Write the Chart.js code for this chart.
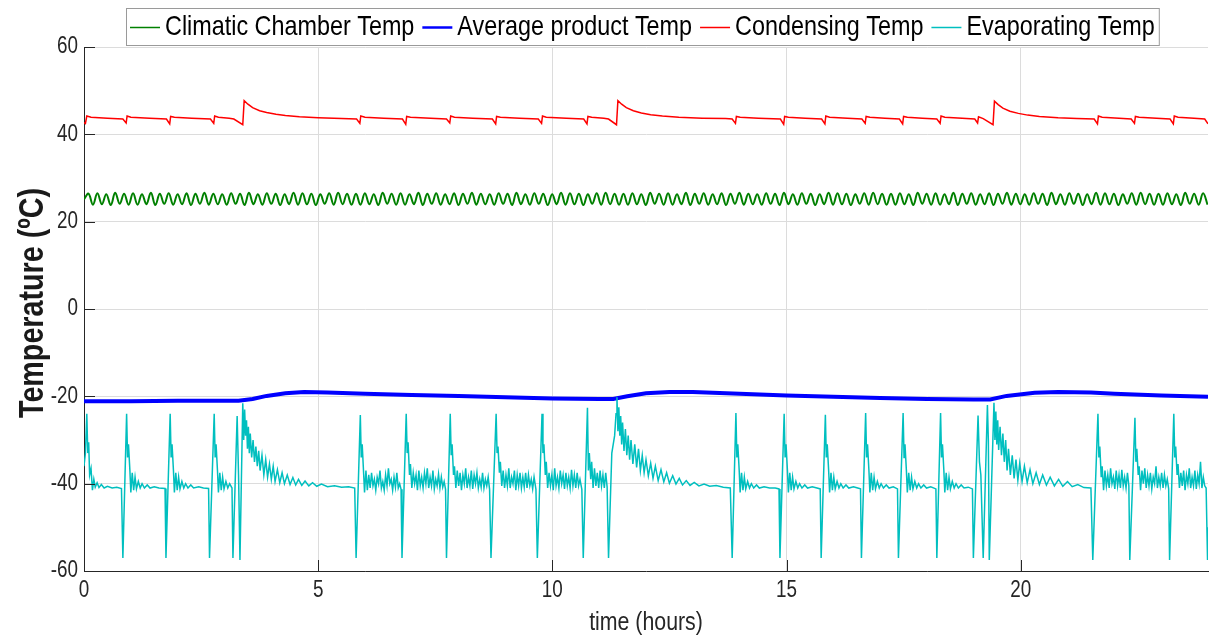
<!DOCTYPE html>
<html>
<head>
<meta charset="utf-8">
<script src="https://cdn.jsdelivr.net/npm/chart.js@4.4.1/dist/chart.umd.min.js"></script>
<style>
  html, body { margin: 0; padding: 0; background: #fff; }
  #wrap { width: 1213px; height: 639px; position: relative; }
</style>
</head>
<body>
<div id="wrap"><canvas id="temps"></canvas></div>
<script>
// Arial squeezed horizontally stands in for the Helvetica Narrow of the original
const fontFamily = '"Liberation Sans", Arial, sans-serif';
const narrow = 0.82;

const seriesNames = ['Climatic Chamber Temp', 'Average product Temp', 'Condensing Temp', 'Evaporating Temp'];
const seriesColors = ['#008000', '#0000ff', '#ff0000', '#00bfbf'];
const yTickValues = [-60, -40, -20, 0, 20, 40, 60];
const xTickValues = [0, 5, 10, 15, 20];

// climatic chamber: one reading every chamberStep hours
const chamberStep = 0.0952;
const chamberTemp = [25.1,
  26.4,23.9,26.5,24.0,26.3,23.8,26.6,24.1,26.4,23.9,26.5,23.9,26.3,24.0,26.6,23.8,26.4,24.1,26.5,23.9,
  26.3,24.0,26.5,23.8,26.4,24.1,26.6,23.9,26.4,24.0,26.3,23.9,26.5,24.1,26.4,23.8,26.6,24.0,26.3,23.9,
  26.5,24.1,26.4,23.8,26.3,24.0,26.6,23.9,26.5,24.0,26.4,23.8,26.3,24.1,26.5,23.9,26.6,24.0,26.4,23.9,
  26.4,23.9,26.5,24.0,26.3,23.8,26.6,24.1,26.4,23.9,26.5,23.9,26.3,24.0,26.6,23.8,26.4,24.1,26.5,23.9,
  26.3,24.0,26.5,23.8,26.4,24.1,26.6,23.9,26.4,24.0,26.3,23.9,26.5,24.1,26.4,23.8,26.6,24.0,26.3,23.9,
  26.5,24.1,26.4,23.8,26.3,24.0,26.6,23.9,26.5,24.0,26.4,23.8,26.3,24.1,26.5,23.9,26.6,24.0,26.4,23.9,
  26.4,23.9,26.5,24.0,26.3,23.8,26.6,24.1,26.4,23.9,26.5,23.9,26.3,24.0,26.6,23.8,26.4,24.1,26.5,23.9,
  26.3,24.0,26.5,23.8,26.4,24.1,26.6,23.9,26.4,24.0,26.3,23.9,26.5,24.1,26.4,23.8,26.6,24.0,26.3,23.9,
  26.5,24.1,26.4,23.8,26.3,24.0,26.6,23.9,26.5,24.0,26.4,23.8,26.3,24.1,26.5,23.9,26.6,24.0,26.4,23.9,
  26.4,23.9,26.5,24.0,26.3,23.8,26.6,24.1,26.4,23.9,26.5,23.9,26.3,24.0,26.6,23.8,26.4,24.1,26.5,23.9,
  26.3,24.0,26.5,23.8,26.4,24.1,26.6,23.9,26.4,24.0,26.3,23.9,26.5,24.1,26.4,23.8,26.6,24.0,26.3,23.9,
  26.5,24.1,26.4,23.8,26.3,24.0,26.6,23.9,26.5,24.0,26.4,23.8,26.3,24.1,26.5,23.9,26.6,24.0,26.4,23.9,
  26.4,23.9,26.5,24.0,26.3,23.8,26.6,24.1,26.4,23.9,26.5,23.9
];

// [hours, degC]
const productTemp = [
  [0,-21.1],[1,-21.1],[2,-21.0],[3,-21.0],[3.3,-21.0],[3.6,-20.6],[3.9,-19.9],[4.3,-19.3],[4.7,-19.0],
  [5.2,-19.1],[6,-19.4],[7,-19.7],[8,-19.9],[9,-20.2],[10,-20.5],[11,-20.6],[11.3,-20.6],[11.6,-20.0],
  [12.0,-19.3],[12.5,-19.0],[13,-19.0],[14,-19.4],[15,-19.8],[16,-20.1],[17,-20.4],[18,-20.6],[19,-20.7],
  [19.35,-20.7],[19.7,-19.9],[20.3,-19.2],[20.8,-19.0],[21.5,-19.1],[22,-19.4],[23,-19.8],[24,-20.1]
];

const condensingTemp = [
  [0,42.7],[0.03,42.5],[0.06,44.2],[0.15,43.9],[0.5,43.7],
  [0.83,43.5],[0.9,42.6],[0.92,44.2],[1.0,43.9],[1.4,43.7],
  [1.76,43.5],[1.83,42.4],[1.85,44.1],[1.93,43.9],[2.3,43.7],
  [2.7,43.5],[2.77,42.5],[2.79,44.2],[2.87,43.9],[3.1,43.7],
  [3.2,43.5],[3.39,42.2],[3.42,47.7],[3.5,46.9],[3.6,46.1],[3.75,45.4],[3.9,45.0],[4.1,44.6],[4.3,44.3],[4.6,44.0],[5.0,43.8],[5.5,43.6],
  [5.82,43.5],[5.89,42.5],[5.91,44.2],[6.0,43.9],[6.4,43.7],
  [6.8,43.5],[6.87,42.3],[6.89,44.1],[6.97,43.9],[7.4,43.7],
  [7.74,43.5],[7.81,42.6],[7.83,44.2],[7.91,43.9],[8.3,43.7],
  [8.72,43.5],[8.79,42.4],[8.81,44.1],[8.89,43.9],[9.3,43.7],
  [9.7,43.5],[9.77,42.5],[9.79,44.2],[9.87,43.9],[10.3,43.7],
  [10.67,43.5],[10.74,42.4],[10.76,44.1],[10.84,43.9],[11.1,43.7],
  [11.2,43.5],[11.37,42.2],[11.4,47.7],[11.48,46.9],[11.58,46.1],[11.73,45.4],[11.9,44.9],[12.1,44.5],[12.35,44.2],[12.7,43.9],[13.2,43.7],[13.7,43.6],
  [13.84,43.5],[13.91,42.5],[13.93,44.1],[14.01,43.9],[14.4,43.7],
  [14.87,43.5],[14.94,42.3],[14.96,44.1],[15.04,43.9],[15.4,43.7],
  [15.75,43.5],[15.82,42.4],[15.84,44.2],[15.92,43.9],[16.3,43.7],
  [16.61,43.5],[16.68,42.5],[16.7,44.1],[16.78,43.9],[17.1,43.7],
  [17.41,43.5],[17.48,42.4],[17.5,44.1],[17.58,43.9],[17.9,43.7],
  [18.21,43.5],[18.28,42.5],[18.3,44.2],[18.38,43.9],[18.75,43.7],
  [19.02,43.5],[19.08,42.6],[19.1,44.0],[19.2,43.6],[19.41,42.2],[19.44,47.6],[19.52,46.8],[19.62,46.0],[19.77,45.3],[19.95,44.8],[20.15,44.4],[20.4,44.1],[20.8,43.8],[21.2,43.6],
  [21.57,43.5],[21.64,42.4],[21.66,44.2],[21.74,43.9],[22.1,43.7],
  [22.36,43.5],[22.43,42.5],[22.45,44.1],[22.53,43.9],[22.9,43.7],
  [23.19,43.5],[23.26,42.4],[23.28,44.2],[23.36,43.9],[23.7,43.7],
  [23.93,43.5],[24,42.4]
];

const evaporatingTemp = [
  [0,-36],[0.03,-33],[0.06,-24],[0.08,-33],[0.1,-30.5],[0.12,-38],[0.15,-36.5],[0.18,-41.5],[0.21,-39],[0.24,-40.8],[0.28,-39.8],[0.32,-40.9],[0.37,-40.2],[0.43,-41],[0.5,-40.6],[0.6,-41],[0.7,-40.8],[0.8,-41.1],
  [0.83,-57],[0.91,-24],[0.93,-34],[0.95,-31],[0.98,-37],[1.0,-42],[1.03,-37.5],[1.06,-41.5],[1.09,-38.5],[1.12,-41.2],[1.16,-39.5],[1.2,-41],[1.24,-40],[1.29,-41],[1.35,-40.3],[1.41,-41],[1.5,-40.7],[1.6,-41],[1.73,-41.1],
  [1.75,-57],[1.84,-24],[1.86,-34],[1.88,-31],[1.91,-37],[1.93,-42],[1.96,-37.5],[1.99,-41.5],[2.02,-38.5],[2.05,-41.2],[2.09,-39.5],[2.13,-41],[2.17,-40],[2.22,-41],[2.28,-40.3],[2.34,-41],[2.45,-40.7],[2.55,-41],[2.66,-41.1],
  [2.68,-57],[2.78,-24],[2.8,-34],[2.82,-31],[2.85,-37],[2.87,-42],[2.9,-37.5],[2.93,-41.5],[2.96,-38.5],[2.99,-41.2],[3.03,-39.5],[3.07,-41],[3.11,-40],[3.16,-41],
  [3.18,-57],[3.27,-24.5],[3.3,-38],[3.33,-57.5],[3.39,-21.6],[3.41,-30],[3.43,-23],[3.45,-29],[3.47,-25.5],[3.49,-32],[3.51,-27],[3.53,-33],[3.55,-28.5],[3.58,-34],[3.61,-30],[3.64,-35],[3.67,-31.5],[3.7,-36],[3.73,-32.5],[3.76,-37],[3.8,-33.5],[3.84,-38],[3.88,-34.5],[3.92,-38.5],[3.96,-35.5],[4.0,-39],[4.04,-36],[4.08,-39.5],[4.13,-36.8],[4.18,-39.8],[4.23,-37.5],[4.28,-40],[4.34,-38],[4.4,-40.2],[4.46,-38.6],[4.52,-40.3],[4.58,-39],[4.65,-40.4],[4.72,-39.4],[4.8,-40.5],[4.88,-39.8],[4.97,-40.6],[5.07,-40.1],[5.2,-40.7],[5.35,-40.5],[5.5,-40.8],[5.65,-40.7],[5.78,-41],
  [5.81,-57],[5.9,-24.3],[5.92,-34],[5.94,-31],[5.97,-37.5],[5.99,-42],[6.02,-37],[6.05,-41.5],[6.08,-38],[6.11,-41],[6.14,-37.5],[6.17,-40.5],[6.2,-39],[6.23,-41.5],[6.26,-38.5],[6.29,-40],[6.32,-37],[6.35,-41],[6.38,-39.5],[6.41,-41.5],[6.44,-38],[6.47,-40.5],[6.5,-36.5],[6.53,-40],[6.56,-39],[6.59,-41.5],[6.62,-38.5],[6.65,-40.8],[6.68,-37.5],[6.71,-41],[6.74,-40],[6.77,-41.3],
  [6.79,-57],[6.88,-24],[6.9,-33],[6.92,-30.5],[6.95,-38],[6.97,-35.5],[7.0,-41],[7.03,-37.5],[7.06,-40],[7.09,-38],[7.12,-41.5],[7.15,-37],[7.18,-40.5],[7.21,-38.5],[7.24,-41],[7.27,-37.5],[7.3,-40],[7.33,-36.5],[7.36,-41],[7.39,-38.5],[7.42,-40.5],[7.45,-37],[7.48,-41.2],[7.51,-39],[7.54,-40.5],[7.57,-37.8],[7.6,-41],[7.63,-38.5],[7.66,-40.8],[7.69,-39.5],[7.72,-41.3],
  [7.74,-57],[7.82,-24],[7.84,-33.5],[7.86,-31],[7.89,-38],[7.91,-36],[7.94,-41],[7.97,-37],[8.0,-40.5],[8.03,-37.5],[8.06,-41.5],[8.09,-38],[8.12,-40],[8.15,-36.5],[8.18,-41],[8.21,-38.5],[8.24,-40.5],[8.27,-37],[8.3,-41.2],[8.33,-38],[8.36,-40],[8.39,-37.5],[8.42,-41],[8.45,-39],[8.48,-40.8],[8.51,-37.5],[8.54,-41],[8.57,-39],[8.6,-40.5],[8.63,-38.5],[8.66,-41.3],
  [8.69,-57],[8.8,-24],[8.82,-33],[8.84,-31.5],[8.87,-37.5],[8.89,-35],[8.92,-40.5],[8.95,-37],[8.98,-41],[9.01,-38],[9.04,-40.5],[9.07,-36.5],[9.1,-41],[9.13,-38.5],[9.16,-40],[9.19,-37],[9.22,-41.5],[9.25,-38],[9.28,-40.5],[9.31,-37.5],[9.34,-41],[9.37,-38.5],[9.4,-40.8],[9.43,-37.5],[9.46,-41],[9.49,-38],[9.52,-40.5],[9.55,-39],[9.58,-41.2],[9.61,-38.5],[9.65,-41.3],
  [9.68,-57],[9.78,-24],[9.8,-33],[9.82,-31],[9.85,-38],[9.87,-35],[9.9,-41],[9.93,-37.5],[9.96,-40.5],[9.99,-38],[10.02,-41.5],[10.05,-36.5],[10.08,-40.5],[10.11,-38.5],[10.14,-41],[10.17,-37],[10.2,-40],[10.23,-38],[10.26,-41.2],[10.29,-37.5],[10.32,-40.5],[10.35,-38.5],[10.38,-41],[10.41,-36.8],[10.44,-40.5],[10.47,-38],[10.5,-41],[10.53,-37.5],[10.56,-40.5],[10.59,-39],[10.63,-41.3],
  [10.66,-57],[10.75,-22.6],[10.77,-37],[10.79,-33],[10.82,-39],[10.84,-35],[10.87,-41],[10.9,-36.5],[10.93,-40.5],[10.96,-37.5],[10.99,-41],[11.02,-37],[11.05,-40.5],[11.08,-38],[11.11,-41],[11.14,-37.5],[11.17,-40.8],
  [11.2,-57],[11.27,-33],[11.3,-31],[11.33,-29],[11.36,-24],[11.38,-20.2],[11.4,-28],[11.42,-22.5],[11.44,-29],[11.46,-24.5],[11.48,-31],[11.5,-26],[11.53,-32.5],[11.56,-27.5],[11.59,-33.5],[11.62,-29],[11.65,-34.5],[11.68,-30],[11.72,-35.5],[11.76,-31],[11.8,-36.3],[11.84,-32],[11.88,-37],[11.92,-33.5],[11.96,-37.5],[12.0,-34.5],[12.05,-38.2],[12.1,-35.3],[12.15,-38.8],[12.2,-36],[12.26,-39.3],[12.32,-36.8],[12.38,-39.6],[12.44,-37.5],[12.5,-39.9],[12.57,-38.2],[12.64,-40.1],[12.71,-38.8],[12.78,-40.3],[12.86,-39.3],[12.94,-40.4],[13.03,-39.7],[13.13,-40.5],[13.24,-40.1],[13.36,-40.6],[13.5,-40.4],[13.65,-40.8],[13.8,-41],
  [13.84,-57],[13.92,-23.8],[13.94,-34],[13.96,-31],[13.99,-37],[14.01,-42],[14.04,-37.5],[14.07,-41.5],[14.1,-38.5],[14.13,-41.2],[14.17,-39.5],[14.21,-41],[14.25,-40],[14.3,-41],[14.36,-40.3],[14.42,-41],[14.52,-40.7],[14.64,-41],[14.76,-41],[14.84,-41.2],
  [14.86,-57],[14.95,-24],[14.97,-34],[14.99,-31],[15.02,-37],[15.04,-42],[15.07,-37.5],[15.1,-41.5],[15.13,-38.5],[15.16,-41.2],[15.2,-39.5],[15.24,-41],[15.28,-40],[15.33,-41],[15.39,-40.3],[15.45,-41],[15.55,-40.7],[15.65,-41],[15.72,-41.2],
  [15.74,-57],[15.83,-24.2],[15.85,-34],[15.87,-31],[15.9,-37],[15.92,-42],[15.95,-37.5],[15.98,-41.5],[16.01,-38.5],[16.04,-41.2],[16.08,-39.5],[16.12,-41],[16.16,-40],[16.21,-41],[16.27,-40.3],[16.33,-41],[16.43,-40.7],[16.52,-41],[16.58,-41.2],
  [16.6,-57],[16.69,-23.8],[16.71,-34],[16.73,-31],[16.76,-37],[16.78,-42],[16.81,-37.5],[16.84,-41.5],[16.87,-38.5],[16.9,-41.2],[16.94,-39.5],[16.98,-41],[17.02,-40],[17.07,-41],[17.13,-40.3],[17.19,-41],[17.28,-40.7],[17.37,-41.2],
  [17.39,-57],[17.49,-23.8],[17.51,-34],[17.53,-31],[17.56,-37],[17.58,-42],[17.61,-37.5],[17.64,-41.5],[17.67,-38.5],[17.7,-41.2],[17.74,-39.5],[17.78,-41],[17.82,-40],[17.87,-41],[17.93,-40.3],[17.99,-41],[18.08,-40.7],[18.19,-41.2],
  [18.21,-57],[18.29,-23.8],[18.31,-34],[18.33,-31],[18.36,-37],[18.38,-42],[18.41,-37.5],[18.44,-41.5],[18.47,-38.5],[18.5,-41.2],[18.54,-39.5],[18.58,-41],[18.62,-40],[18.67,-41],[18.73,-40.3],[18.79,-41],[18.88,-40.8],[18.97,-41.2],
  [18.99,-57],[19.09,-24.4],[19.12,-35],[19.15,-38],[19.2,-57],[19.29,-22],[19.31,-30],[19.33,-57.5],[19.43,-21.5],[19.45,-30],[19.47,-23.5],[19.49,-31],[19.51,-25.5],[19.53,-32.3],[19.56,-27],[19.59,-33.5],[19.62,-28.5],[19.65,-35],[19.68,-30],[19.71,-37],[19.74,-32],[19.78,-38],[19.82,-33.5],[19.86,-38.8],[19.9,-34.5],[19.94,-39.2],[19.98,-35.3],[20.03,-39.5],[20.08,-36],[20.14,-39.8],[20.2,-36.8],[20.26,-40],[20.33,-37.5],[20.4,-40.2],[20.47,-38],[20.55,-40.3],[20.63,-38.5],[20.72,-40.5],[20.81,-39],[20.9,-40.6],[21.0,-39.5],[21.1,-40.7],[21.22,-40.2],[21.35,-40.9],[21.5,-41],
  [21.54,-57.5],[21.65,-24],[21.67,-34],[21.69,-31.5],[21.72,-38.5],[21.74,-36],[21.77,-41.5],[21.8,-37],[21.83,-40.5],[21.86,-38],[21.89,-41],[21.92,-36.5],[21.95,-40],[21.98,-38.5],[22.01,-41.2],[22.04,-37],[22.07,-40.5],[22.1,-38],[22.13,-41],[22.16,-36.8],[22.19,-40.5],[22.22,-38.5],[22.25,-41],[22.28,-37.5],[22.31,-40.5],
  [22.33,-57.5],[22.44,-24.9],[22.46,-35],[22.48,-32],[22.51,-38],[22.53,-36],[22.56,-41.5],[22.59,-37],[22.62,-40],[22.65,-36.5],[22.68,-41],[22.71,-38],[22.74,-40.5],[22.77,-37.5],[22.8,-41.2],[22.83,-38.5],[22.86,-40],[22.89,-36],[22.92,-41],[22.95,-38.5],[22.98,-40.5],[23.01,-37.5],[23.04,-41],[23.07,-38],[23.1,-40.5],[23.13,-39],[23.16,-41.2],
  [23.18,-57.5],[23.27,-24],[23.29,-34],[23.31,-31.5],[23.34,-38],[23.36,-35.5],[23.39,-41],[23.42,-37.5],[23.45,-40.5],[23.48,-37],[23.51,-41.5],[23.54,-38],[23.57,-40],[23.6,-36.5],[23.63,-41],[23.66,-38.5],[23.69,-40.5],[23.72,-37],[23.75,-41.2],[23.78,-38],[23.81,-40],[23.84,-35],[23.87,-41],[23.9,-38.5],[23.93,-40.5],[23.96,-41],[23.99,-57.5],[24,-50]
];

const toPoints = pairs => pairs.map(p => ({x: p[0], y: p[1]}));
const chamberPoints = chamberTemp.map((v, i) => ({x: Math.min(i * chamberStep, 24), y: v}));

function narrowText(ctx, text, x, y, size, opts = {}) {
  ctx.save();
  ctx.font = (opts.weight || 'normal') + ' ' + size + 'px ' + fontFamily;
  ctx.fillStyle = opts.color || '#262626';
  ctx.textAlign = opts.align || 'left';
  ctx.textBaseline = 'middle';
  ctx.translate(x, y);
  if (opts.rotate) ctx.rotate(opts.rotate);
  ctx.scale(narrow, 1);
  ctx.fillText(text, 0, 0);
  ctx.restore();
}

// inward tick marks, tick labels and axis titles like the original
const axisDress = {
  id: 'axisDress',
  afterDatasetsDraw(chart) {
    const {ctx, chartArea: a, scales: {x, y}} = chart;
    ctx.save();
    ctx.strokeStyle = '#262626';
    ctx.lineWidth = 1;
    ctx.beginPath();
    x.ticks.forEach(t => {
      const px = Math.round(x.getPixelForValue(t.value)) + 0.5;
      ctx.moveTo(px, a.bottom); ctx.lineTo(px, a.bottom - 11);
    });
    y.ticks.forEach(t => {
      const py = Math.round(y.getPixelForValue(t.value)) + 0.5;
      ctx.moveTo(a.left, py); ctx.lineTo(a.left + 11, py);
    });
    ctx.stroke();
    ctx.restore();
    y.ticks.forEach(t => narrowText(ctx, String(t.value), a.left - 6, y.getPixelForValue(t.value), 23, {align: 'right'}));
    x.ticks.forEach(t => narrowText(ctx, String(t.value), x.getPixelForValue(t.value), a.bottom + 20, 23, {align: 'center'}));
    narrowText(ctx, 'time (hours)', (a.left + a.right) / 2, 623, 26, {align: 'center'});
    narrowText(ctx, 'Temperature (ºC)', 33, 303, 35, {align: 'center', weight: 'bold', color: '#1a1a1a', rotate: -Math.PI / 2});
  }
};

// boxed horizontal legend above the plot
const boxLegend = {
  id: 'boxLegend',
  afterDraw(chart) {
    const {ctx, chartArea: a} = chart;
    const size = 28.5;
    ctx.save();
    ctx.font = size + 'px ' + fontFamily;
    const lineLen = 30, lineGap = 5, itemGap = 8, padX = 4;
    const widths = seriesNames.map(n => ctx.measureText(n).width * narrow);
    let total = padX * 2 + itemGap * (widths.length - 1);
    widths.forEach(w => total += lineLen + lineGap + w);
    const x0 = Math.round((a.left + a.right) / 2 - 4 - total / 2);
    const y0 = 8, h = 37;
    ctx.fillStyle = '#fff';
    ctx.fillRect(x0, y0, total, h);
    ctx.strokeStyle = '#9a9a9a';
    ctx.lineWidth = 1;
    ctx.strokeRect(x0 + 0.5, y0 + 0.5, total, h);
    let cx = x0 + padX;
    const cy = y0 + h / 2 + 1;
    seriesNames.forEach((name, i) => {
      ctx.strokeStyle = seriesColors[i];
      ctx.lineWidth = i === 1 ? 2.5 : 1.5;
      ctx.beginPath();
      ctx.moveTo(cx, cy); ctx.lineTo(cx + lineLen, cy);
      ctx.stroke();
      cx += lineLen + lineGap;
      narrowText(ctx, name, cx, cy, size, {color: '#000'});
      cx += widths[i] + itemGap;
    });
    ctx.restore();
  }
};

new Chart(document.getElementById('temps'), {
  type: 'line',
  data: {
    datasets: [
      {label: seriesNames[0], data: chamberPoints, borderColor: seriesColors[0], borderWidth: 2, tension: 0.4, order: 4},
      {label: seriesNames[1], data: toPoints(productTemp), borderColor: seriesColors[1], borderWidth: 4, order: 3},
      {label: seriesNames[2], data: toPoints(condensingTemp), borderColor: seriesColors[2], borderWidth: 1.5, order: 2},
      {label: seriesNames[3], data: toPoints(evaporatingTemp), borderColor: seriesColors[3], borderWidth: 1.5, order: 1}
    ]
  },
  options: {
    responsive: true,
    maintainAspectRatio: false,
    animation: false,
    devicePixelRatio: 1,
    elements: {point: {radius: 0}, line: {tension: 0, fill: false}},
    layout: {padding: {top: 47, right: 5, left: 0, bottom: 0}},
    plugins: {legend: {display: false}, tooltip: {enabled: false}},
    scales: {
      x: {
        type: 'linear', min: 0, max: 24,
        afterFit(scale) { scale.height = 68; },
        afterBuildTicks(scale) { scale.ticks = xTickValues.map(v => ({value: v})); },
        grid: {color: '#dcdcdc', drawTicks: false},
        border: {color: '#262626', width: 1},
        ticks: {display: false}
      },
      y: {
        type: 'linear', min: -60, max: 60,
        afterFit(scale) { scale.width = 84; },
        afterBuildTicks(scale) { scale.ticks = yTickValues.map(v => ({value: v})); },
        grid: {color: '#dcdcdc', drawTicks: false},
        border: {color: '#262626', width: 1},
        ticks: {display: false}
      }
    }
  },
  plugins: [axisDress, boxLegend]
});
</script>
</body>
</html>
